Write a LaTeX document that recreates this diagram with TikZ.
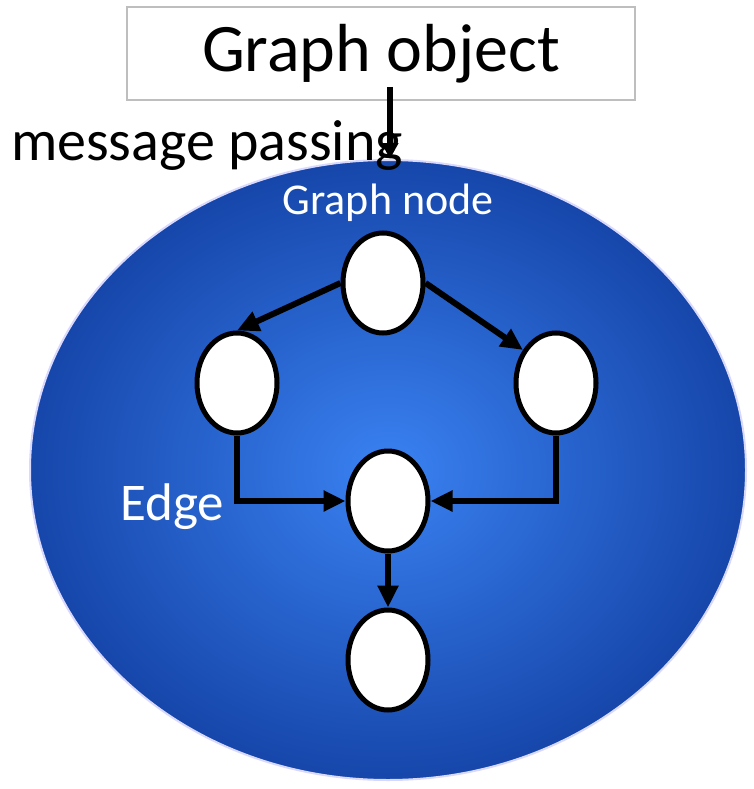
\documentclass[tikz,border=0pt]{standalone}
\usepackage{fontspec}
\setmainfont{Carlito}
\usetikzlibrary{shapes.geometric,arrows.meta}
\definecolor{blobin}{RGB}{58,130,242}
\definecolor{blobout}{RGB}{22,70,170}
\definecolor{boxgray}{RGB}{190,190,190}
\begin{document}
\begin{tikzpicture}[x=1pt, y=-1pt, line width=6pt,
    gnode/.style = {draw, ellipse, fill=white, line width=5pt, minimum width=80pt, minimum height=100pt},
    edge/.style = {-{Triangle[length=22pt,width=20pt]}}]
    \useasboundingbox (0,0) rectangle (753,789);
    % Disegna il contenitore del grafo
    \node[ellipse, inner color=blobin, outer color=blobout, draw=blue!15!white, line width=2pt,
        minimum width=716pt, minimum height=620pt] (blob) at (388,470) {};
    \node[draw=boxgray, line width=2pt, minimum width=508pt, minimum height=93pt,
        font=\fontsize{68}{70}\selectfont] (gobj) at (381,53.5) {Graph object};
    \node[anchor=base west, inner sep=0pt, font=\fontsize{58}{60}\selectfont] (msg) at (8,160) {message passing};
    \node[text=white, font=\fontsize{44}{46}\selectfont] (lblnode) at (388,203) {Graph node};
    \node[text=white, font=\fontsize{53}{55}\selectfont] (lbledge) at (172,507) {Edge};

    % Disegna i nodi del grafo
    \node[gnode] (top) at (383,283) {};
    \node[gnode] (left) at (237,383) {};
    \node[gnode] (right) at (556,383) {};
    \node[gnode] (mid) at (388,501) {};
    \node[gnode] (bot) at (388,660) {};

    % Disegna gli archi orientati
    \coordinate (msgstart) at (390,87);
    \draw[-{Triangle[length=16pt,width=16pt]}] (msgstart) -- (msgstart |- blob.north);
    \draw[edge] (top.west) -- (left.north);
    \draw[edge] (top.east) -- (right.135);
    \draw[edge] (left.south) |- (mid.west);
    \draw[edge] (right.south) |- (mid.east);
    \draw[edge] (mid.south) -- (bot.north);
\end{tikzpicture}
\end{document}
